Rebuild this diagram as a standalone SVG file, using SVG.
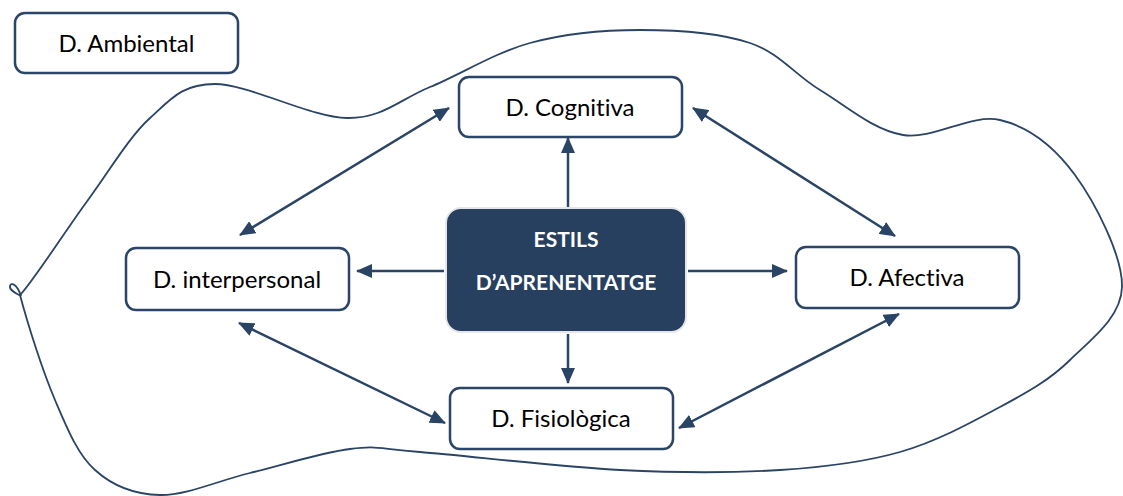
<svg xmlns="http://www.w3.org/2000/svg" width="1123" height="496" viewBox="0 0 1123 496">
  <style>
    .node rect { fill: #ffffff; stroke: #2b4568; stroke-width: 2.5; }
    .node text { font-family: Lato, "Open Sans", "Liberation Sans", sans-serif; font-size: 24px; fill: #000000; text-anchor: middle; font-variant-ligatures: none; }
    .core rect { fill: #27405f; stroke: #e4e6ea; stroke-width: 2; }
    .core text { font-family: Lato, "Open Sans", "Liberation Sans", sans-serif; font-size: 21px; font-weight: bold; fill: #ffffff; text-anchor: middle; }
    .link { stroke: #2a4466; stroke-width: 2.5; fill: none; }
    .blob { stroke: #2a4466; stroke-width: 1.8; fill: none; }
  </style>
  <defs>
    <marker id="head" viewBox="0 0 16 14" refX="15" refY="7" markerWidth="16" markerHeight="14" markerUnits="userSpaceOnUse" orient="auto-start-reverse">
      <path d="M0,0 L16,7 L0,14 z" fill="#2a4466"/>
    </marker>
  </defs>

  <!-- environment boundary -->
  <g id="environment">
    <path class="blob" d="M20,295 C32,283 66.3,229.5 88,200 C109.7,170.5 128.8,137.3 150,118 C171.2,98.7 182.2,84 215,84 C247.8,84 311.2,117.5 347,118 C382.8,118.5 399.5,99.5 430,87 C460.5,74.5 495,52.5 530,43 C565,33.5 603.3,30 640,30 C676.7,30 720,33 750,43 C780,53 794.5,74.7 820,90 C845.5,105.3 873,130 903,135 C933,140 971.3,113.3 1000,120 C1028.7,126.7 1054.7,147.2 1075,175 C1095.3,202.8 1122.8,256.2 1122,287 C1121.2,317.8 1090.3,340 1070,360 C1049.7,380 1028.3,391.7 1000,407 C971.7,422.3 936.7,441.5 900,452 C863.3,462.5 826.7,467 780,470 C733.3,473 680,473 620,470 C560,467 465,455.5 420,452 C375,448.5 378.3,445.5 350,449 C321.7,452.5 281.7,465.3 250,473 C218.3,480.7 185.8,495.5 160,495 C134.2,494.5 112.5,485.8 95,470 C77.5,454.2 67.5,429.2 55,400 C42.5,370.8 28,325 20,295"/>
    <path class="blob" d="M21,296 C15,293 9,290 10,286 C11,282 17,284 21,296"/>
  </g>

  <!-- connectors -->
  <g id="connectors">
    <line class="link" x1="568" y1="208" x2="568" y2="138" marker-end="url(#head)"/>
    <line class="link" x1="444" y1="271" x2="357" y2="271" marker-end="url(#head)"/>
    <line class="link" x1="688" y1="271" x2="787" y2="271" marker-end="url(#head)"/>
    <line class="link" x1="568" y1="334" x2="568" y2="383" marker-end="url(#head)"/>
    <line class="link" x1="449" y1="108" x2="240" y2="235" marker-start="url(#head)" marker-end="url(#head)"/>
    <line class="link" x1="693" y1="108" x2="895" y2="236" marker-start="url(#head)" marker-end="url(#head)"/>
    <line class="link" x1="239" y1="323" x2="445" y2="423" marker-start="url(#head)" marker-end="url(#head)"/>
    <line class="link" x1="899" y1="314" x2="679" y2="428" marker-start="url(#head)" marker-end="url(#head)"/>
  </g>

  <g id="ambiental" class="node">
    <rect x="15" y="13" width="223" height="60" rx="10"/>
    <text x="126.5" y="52">D. Ambiental</text>
  </g>

  <g id="cognitiva" class="node">
    <rect x="459" y="77" width="223" height="60" rx="10"/>
    <text x="570" y="116">D. Cognitiva</text>
  </g>

  <g id="interpersonal" class="node">
    <rect x="126" y="248" width="223" height="62" rx="10"/>
    <text x="237" y="288">D. interpersonal</text>
  </g>

  <g id="afectiva" class="node">
    <rect x="796" y="247" width="223" height="61" rx="10"/>
    <text x="907" y="286">D. Afectiva</text>
  </g>

  <g id="fisiologica" class="node">
    <rect x="450" y="388" width="223" height="61" rx="10"/>
    <text x="561" y="427">D. Fisiològica</text>
  </g>

  <g id="estils" class="core">
    <rect x="446" y="208" width="240" height="124" rx="15"/>
    <text x="566" y="247">ESTILS</text>
    <text x="566" y="290">D’APRENENTATGE</text>
  </g>
</svg>
